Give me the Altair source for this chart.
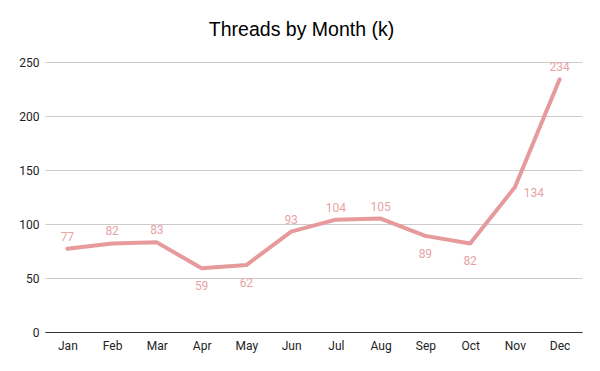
import altair as alt
import pandas as pd

months = ["Jan", "Feb", "Mar", "Apr", "May", "Jun", "Jul", "Aug", "Sep", "Oct", "Nov", "Dec"]
threads = [77, 82, 83, 59, 62, 93, 104, 105, 89, 82, 134, 234]
label_side = ["above", "above", "above", "below", "below", "above",
              "above", "above", "below", "below", "right", "above"]
y_ticks = [0, 50, 100, 150, 200, 250]

df = pd.DataFrame({"month": months, "threads": threads, "side": label_side})

LINE = "#e69a9c"
LABEL = "#e8a2a5"

x = alt.X(
    "month:N", sort=months,
    scale=alt.Scale(type="point", padding=0.5),
    axis=alt.Axis(title=None, labelAngle=0, ticks=False, grid=False,
                  domainColor="#333333", domainWidth=1, labelPadding=8,
                  labelFont="Roboto", labelFontSize=12, labelColor="#222222"),
)
y = alt.Y(
    "threads:Q",
    scale=alt.Scale(domain=[0, 250], nice=False, zero=True),
    axis=alt.Axis(title=None, values=y_ticks, domain=False, ticks=False,
                  gridColor="#cccccc", gridWidth=1, labelPadding=6,
                  labelFont="Roboto", labelFontSize=12, labelColor="#222222"),
)

base = alt.Chart(df).encode(x=x, y=y)

line = base.mark_line(color=LINE, strokeWidth=4, strokeJoin="round", strokeCap="round")

txt_kw = dict(font="Roboto", fontSize=12, color=LABEL)
above = base.transform_filter(alt.datum.side == "above").mark_text(dy=-12, **txt_kw).encode(text="threads:Q")
below = base.transform_filter(alt.datum.side == "below").mark_text(dy=18, **txt_kw).encode(text="threads:Q")
right = base.transform_filter(alt.datum.side == "right").mark_text(dx=19, dy=6, **txt_kw).encode(text="threads:Q")

chart = (
    alt.layer(line, above, below, right)
    .properties(
        width=537, height=270,
        title=alt.Title("Threads by Month (k)", font="Liberation Sans", fontSize=19.5,
                        fontWeight="normal", color="#000000", anchor="middle",
                        dx=-12, offset=16),
        padding={"left": 37, "top": 54, "right": 5, "bottom": 25},
        autosize=alt.AutoSizeParams(type="none"),
    )
    .configure_view(stroke=None)
)

chart.save("out.html", embed_options={"renderer": "svg", "actions": False})
